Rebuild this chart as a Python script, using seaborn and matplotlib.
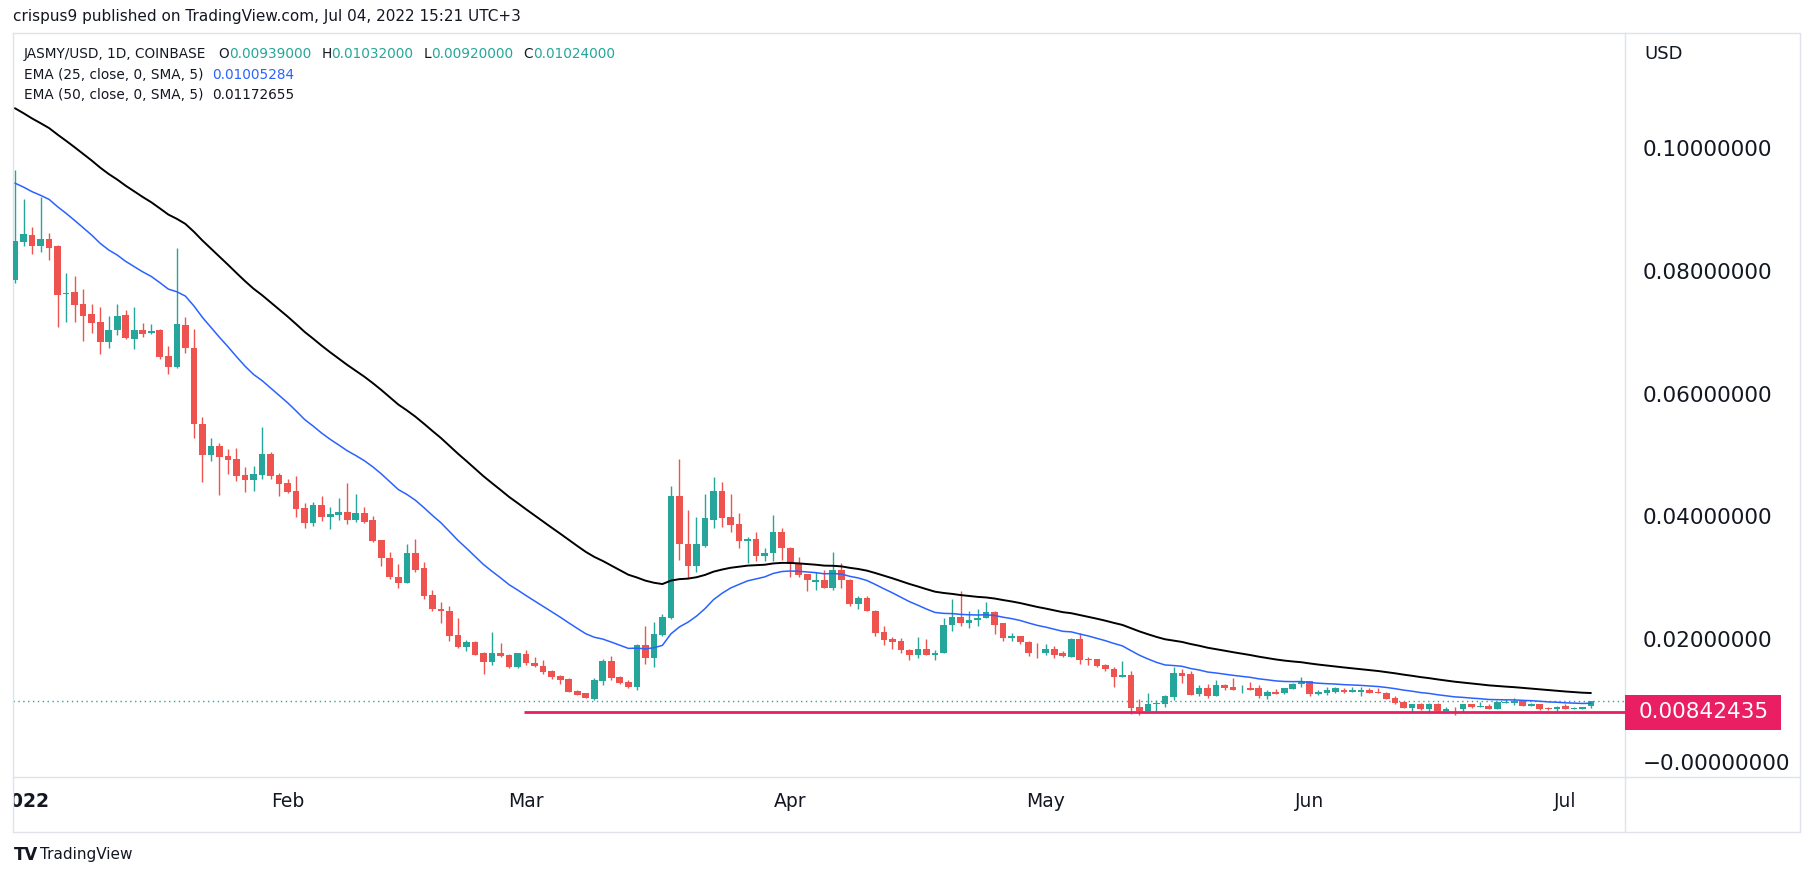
import numpy as np
import pandas as pd
import matplotlib
matplotlib.use("Agg")
import matplotlib.pyplot as plt
import matplotlib.dates as mdates
import matplotlib.transforms as mtransforms
from matplotlib.patches import Rectangle
from matplotlib.lines import Line2D
import seaborn as sns

# ---------------- data ----------------
start_date = "2021-12-31"

opens = [
    0.0788, 0.0850, 0.0861, 0.0843, 0.0855, 0.0843, 0.0765, 0.0769, 0.0749, 0.0733,
    0.0720, 0.0687, 0.0707, 0.0731, 0.0692, 0.0707, 0.0702, 0.0707, 0.0664, 0.0647,
    0.0715, 0.0678, 0.0554, 0.0503, 0.0518, 0.0501, 0.0496, 0.0470, 0.0463, 0.0471,
    0.0505, 0.0470, 0.0457, 0.0445, 0.0417, 0.0393, 0.0422, 0.0402, 0.0406, 0.0410,
    0.0397, 0.0409, 0.0397, 0.0365, 0.0336, 0.0305, 0.0295, 0.0344, 0.0319, 0.0275,
    0.0253, 0.0250, 0.0210, 0.0190, 0.0199, 0.0180, 0.0166, 0.0181, 0.0178, 0.0158,
    0.0179, 0.0165, 0.0160, 0.0151, 0.0143, 0.0139, 0.0119, 0.0115, 0.0106, 0.0136,
    0.0168, 0.0141, 0.0133, 0.0126, 0.0194, 0.0173, 0.0210, 0.0238, 0.0437, 0.0359,
    0.0323, 0.0355, 0.0398, 0.0444, 0.0403, 0.0391, 0.0364, 0.0367, 0.0339, 0.0343,
    0.0378, 0.0352, 0.0325, 0.0309, 0.0297, 0.0300, 0.0287, 0.0316, 0.0300, 0.0261,
    0.0271, 0.0250, 0.0215, 0.0203, 0.0200, 0.0186, 0.0178, 0.0188, 0.0177, 0.0180,
    0.0226, 0.0240, 0.0229, 0.0234, 0.0237, 0.0248, 0.0229, 0.0206, 0.0209, 0.0199,
    0.0181, 0.0180, 0.0188, 0.0180, 0.0175, 0.0204, 0.0171, 0.0171, 0.0162, 0.0155,
    0.0142, 0.0145, 0.0093, 0.0087, 0.0097, 0.0098, 0.0109, 0.0148, 0.0146, 0.0114,
    0.0124, 0.0110, 0.0129, 0.0126, 0.0123, 0.0124, 0.0123, 0.0110, 0.0118, 0.0115,
    0.0122, 0.0130, 0.0135, 0.0114, 0.0116, 0.0118, 0.0121, 0.0118, 0.0118, 0.0121,
    0.0118, 0.0116, 0.0107, 0.0101, 0.0092, 0.0097, 0.0090, 0.0098, 0.0087, 0.0090,
    0.0089, 0.0098, 0.0093, 0.0095, 0.0090, 0.0100, 0.0100, 0.0103, 0.0095, 0.0097,
    0.0092, 0.0090, 0.0095, 0.0089, 0.0090, 0.00939,
]
highs = [
    0.0967, 0.0920, 0.0874, 0.0923, 0.0865, 0.0845, 0.0800, 0.0795, 0.0774, 0.0749,
    0.0744, 0.0730, 0.0749, 0.0739, 0.0744, 0.0718, 0.0716, 0.0708, 0.0680, 0.0840,
    0.0728, 0.0709, 0.0565, 0.0531, 0.0523, 0.0513, 0.0514, 0.0483, 0.0485, 0.0549,
    0.0508, 0.0474, 0.0465, 0.0469, 0.0425, 0.0427, 0.0436, 0.0419, 0.0433, 0.0458,
    0.0440, 0.0419, 0.0404, 0.0365, 0.0345, 0.0326, 0.0358, 0.0366, 0.0329, 0.0283,
    0.0264, 0.0258, 0.0238, 0.0202, 0.0200, 0.0183, 0.0215, 0.0197, 0.0179, 0.0181,
    0.0185, 0.0175, 0.0170, 0.0153, 0.0145, 0.0140, 0.0120, 0.0116, 0.0140, 0.0171,
    0.0176, 0.0143, 0.0137, 0.0196, 0.0224, 0.0232, 0.0245, 0.0452, 0.0497, 0.0413,
    0.0403, 0.0439, 0.0468, 0.0460, 0.0439, 0.0408, 0.0370, 0.0378, 0.0351, 0.0406,
    0.0385, 0.0354, 0.0337, 0.0309, 0.0313, 0.0316, 0.0346, 0.0328, 0.0302, 0.0274,
    0.0273, 0.0251, 0.0225, 0.0207, 0.0205, 0.0188, 0.0207, 0.0204, 0.0186, 0.0238,
    0.0268, 0.0282, 0.0250, 0.0253, 0.0264, 0.0250, 0.0230, 0.0214, 0.0209, 0.0201,
    0.0197, 0.0196, 0.0193, 0.0184, 0.0206, 0.0214, 0.0175, 0.0171, 0.0163, 0.0158,
    0.0168, 0.0152, 0.0106, 0.0116, 0.0105, 0.0113, 0.0158, 0.0154, 0.0151, 0.0128,
    0.0131, 0.0137, 0.0131, 0.0140, 0.0128, 0.0134, 0.0129, 0.0121, 0.0122, 0.0124,
    0.0132, 0.0142, 0.0136, 0.0121, 0.0126, 0.0126, 0.0124, 0.0126, 0.0126, 0.0124,
    0.0124, 0.0118, 0.0110, 0.0103, 0.0097, 0.0100, 0.0100, 0.0100, 0.0093, 0.0093,
    0.0098, 0.0098, 0.0101, 0.0097, 0.0101, 0.0106, 0.0107, 0.0104, 0.0100, 0.0097,
    0.0093, 0.0095, 0.0097, 0.0093, 0.0093, 0.01032,
]
lows = [
    0.0784, 0.0843, 0.0830, 0.0834, 0.0821, 0.0712, 0.0720, 0.0720, 0.0689, 0.0702,
    0.0668, 0.0677, 0.0698, 0.0692, 0.0676, 0.0696, 0.0700, 0.0660, 0.0635, 0.0645,
    0.0669, 0.0531, 0.0459, 0.0493, 0.0438, 0.0472, 0.0461, 0.0443, 0.0445, 0.0464,
    0.0464, 0.0436, 0.0442, 0.0402, 0.0384, 0.0388, 0.0396, 0.0383, 0.0397, 0.0391,
    0.0394, 0.0393, 0.0362, 0.0322, 0.0301, 0.0287, 0.0294, 0.0313, 0.0269, 0.0249,
    0.0230, 0.0200, 0.0189, 0.0184, 0.0177, 0.0147, 0.0161, 0.0175, 0.0157, 0.0157,
    0.0161, 0.0158, 0.0147, 0.0139, 0.0130, 0.0117, 0.0112, 0.0107, 0.0105, 0.0128,
    0.0137, 0.0131, 0.0124, 0.0121, 0.0163, 0.0158, 0.0209, 0.0236, 0.0333, 0.0303,
    0.0312, 0.0354, 0.0385, 0.0386, 0.0378, 0.0352, 0.0328, 0.0331, 0.0331, 0.0331,
    0.0333, 0.0305, 0.0305, 0.0282, 0.0284, 0.0286, 0.0284, 0.0287, 0.0258, 0.0253,
    0.0250, 0.0209, 0.0194, 0.0188, 0.0180, 0.0170, 0.0172, 0.0178, 0.0170, 0.0180,
    0.0217, 0.0224, 0.0222, 0.0225, 0.0237, 0.0212, 0.0201, 0.0201, 0.0196, 0.0176,
    0.0173, 0.0178, 0.0172, 0.0175, 0.0175, 0.0163, 0.0162, 0.0158, 0.0152, 0.0126,
    0.0141, 0.0082, 0.0079, 0.0087, 0.0087, 0.0093, 0.0104, 0.0132, 0.0113, 0.0111,
    0.0108, 0.0110, 0.0120, 0.0121, 0.0116, 0.0121, 0.0108, 0.0106, 0.0114, 0.0114,
    0.0122, 0.0126, 0.0111, 0.0112, 0.0113, 0.0115, 0.0116, 0.0118, 0.0110, 0.0116,
    0.0115, 0.0106, 0.0097, 0.0092, 0.0084, 0.0088, 0.0084, 0.0085, 0.0087, 0.0080,
    0.0085, 0.0092, 0.0093, 0.0090, 0.0090, 0.0099, 0.0096, 0.0095, 0.0095, 0.0088,
    0.0088, 0.0085, 0.0089, 0.0089, 0.0090, 0.00920,
]
closes = [
    0.0852, 0.0863, 0.0843, 0.0855, 0.0840, 0.0764, 0.0767, 0.0748, 0.0730, 0.0718,
    0.0687, 0.0707, 0.0730, 0.0694, 0.0707, 0.0700, 0.0705, 0.0663, 0.0647, 0.0717,
    0.0678, 0.0554, 0.0503, 0.0518, 0.0500, 0.0495, 0.0469, 0.0463, 0.0472, 0.0505,
    0.0469, 0.0456, 0.0443, 0.0415, 0.0393, 0.0422, 0.0402, 0.0407, 0.0410, 0.0397,
    0.0409, 0.0394, 0.0363, 0.0335, 0.0305, 0.0295, 0.0344, 0.0316, 0.0274, 0.0252,
    0.0249, 0.0208, 0.0190, 0.0199, 0.0178, 0.0166, 0.0181, 0.0176, 0.0158, 0.0180,
    0.0164, 0.0160, 0.0150, 0.0142, 0.0137, 0.0118, 0.0113, 0.0108, 0.0137, 0.0168,
    0.0140, 0.0132, 0.0126, 0.0194, 0.0173, 0.0211, 0.0240, 0.0437, 0.0359, 0.0323,
    0.0359, 0.0400, 0.0444, 0.0401, 0.0390, 0.0364, 0.0367, 0.0339, 0.0344, 0.0378,
    0.0351, 0.0325, 0.0308, 0.0299, 0.0299, 0.0287, 0.0316, 0.0299, 0.0261, 0.0271,
    0.0250, 0.0214, 0.0202, 0.0199, 0.0186, 0.0178, 0.0188, 0.0178, 0.0181, 0.0227,
    0.0240, 0.0229, 0.0235, 0.0238, 0.0248, 0.0227, 0.0206, 0.0209, 0.0198, 0.0180,
    0.0180, 0.0188, 0.0178, 0.0176, 0.0204, 0.0170, 0.0170, 0.0160, 0.0154, 0.0142,
    0.0145, 0.0092, 0.0087, 0.0098, 0.0100, 0.0110, 0.0149, 0.0144, 0.0113, 0.0124,
    0.0110, 0.0129, 0.0124, 0.0121, 0.0124, 0.0121, 0.0110, 0.0118, 0.0114, 0.0123,
    0.0131, 0.0136, 0.0114, 0.0118, 0.0121, 0.0123, 0.0118, 0.0121, 0.0121, 0.0116,
    0.0115, 0.0106, 0.0100, 0.0092, 0.0097, 0.0090, 0.0098, 0.0087, 0.0090, 0.0089,
    0.0098, 0.0093, 0.0095, 0.0090, 0.0101, 0.0101, 0.0103, 0.0095, 0.0097, 0.0090,
    0.0090, 0.0093, 0.0089, 0.0092, 0.0093, 0.01024,
]

ema25_seed = 0.0946          # EMA values at the first visible bar
ema50_seed = 0.1068
ema25_label = "0.01005284"
ema50_label = "0.01172655"

support_level = 0.00842435
support_start = "2022-02-28 18:00"

month_ticks = ["2022-01-01", "2022-02-01", "2022-03-01", "2022-04-01",
               "2022-05-01", "2022-06-01", "2022-07-01"]
month_labels = ["2022", "Feb", "Mar", "Apr", "May", "Jun", "Jul"]

price_ticks = [0.10, 0.08, 0.06, 0.04, 0.02, 0.0]
price_labels = ["0.10000000", "0.08000000", "0.06000000", "0.04000000",
                "0.02000000", "\u22120.00000000"]

header_text = "crispus9 published on TradingView.com, Jul 04, 2022 15:21 UTC+3"
symbol_text = "JASMY/USD, 1D, COINBASE"

# ---------------- styling ----------------
sns.set_theme(style="white")
plt.rcParams['font.family'] = ['DejaVu Sans']

UP, DOWN = "#26a69a", "#ef5350"
EMA25_C, EMA50_C = "#2962ff", "#000000"
PINK = "#e91e63"
TXT = "#131722"
FRAME = "#e0e3eb"

W, H = 1813, 876
fig = plt.figure(figsize=(W / 100, H / 100), dpi=100)
fig.patch.set_facecolor("white")


def fx(px):
    return px / W


def fy(py):
    return 1 - py / H


L, R, T, B, B2, RR = 13, 1625, 33, 777, 832, 1800
ax = fig.add_axes([fx(L), fy(B), fx(R - L), (B - T) / H])
axt = fig.add_axes([fx(L), fy(B2), fx(R - L), (B2 - B) / H], sharex=ax)

dates = pd.date_range(start_date, periods=len(closes), freq="D")
xnum = mdates.date2num(dates.to_pydatetime())
o = np.array(opens)
h = np.array(highs)
l = np.array(lows)
c = np.array(closes)


def ema(values, span, seed):
    s = pd.Series([seed] + list(values[1:]))
    return s.ewm(alpha=2.0 / (span + 1), adjust=False).mean().values


ema25 = ema(c, 25, ema25_seed)
ema50 = ema(c, 50, ema50_seed)

up = c >= o
cols = np.where(up, UP, DOWN)

# candles
ax.vlines(xnum, l, h, colors=cols, linewidth=1.0, zorder=2)
body_bottom = np.minimum(o, c)
body_h = np.maximum(np.abs(c - o), 0.00013)
ax.bar(xnum, body_h, bottom=body_bottom, width=0.78, color=cols,
       linewidth=0, zorder=3)

# EMAs
sns.lineplot(x=xnum, y=ema25, ax=ax, color=EMA25_C, linewidth=1.1, zorder=4)
sns.lineplot(x=xnum, y=ema50, ax=ax, color=EMA50_C, linewidth=1.4, zorder=4)

# limits
x_left = xnum[0] - 0.235
x_right = xnum[0] + 189.0
ax.set_xlim(x_left, x_right)
ax.set_ylim(-0.002117, 0.11906)

# last price dotted line and support line
ax.axhline(c[-1], color=UP, linewidth=1.0, linestyle=(0, (1, 2.5)), zorder=1)
sup_x0 = mdates.date2num(pd.Timestamp(support_start).to_pydatetime())
ax.hlines(support_level, sup_x0, x_right, colors=PINK, linewidth=2.0, zorder=5)

ax.set_xticks([])
ax.set_yticks([])
ax.set_xlabel("")
ax.set_ylabel("")
for sp in ax.spines.values():
    sp.set_color(FRAME)
    sp.set_linewidth(1.0)

axt.set_ylim(0, 1)
axt.set_axis_off()
for d, lab in zip(month_ticks, month_labels):
    xd = mdates.date2num(pd.Timestamp(d).to_pydatetime())
    axt.text(xd, 0.56, lab, ha="center", va="center", fontsize=13.5,
             color=TXT, fontweight="bold" if lab.isdigit() else "normal",
             clip_on=True)

# frame lines
def fline(x0, y0, x1, y1):
    fig.add_artist(Line2D([fx(x0), fx(x1)], [fy(y0), fy(y1)],
                          transform=fig.transFigure, color=FRAME, linewidth=1.0))


fline(R, T, RR, T)
fline(RR, T, RR, B2)
fline(L, B2, RR, B2)
fline(L, B, L, B2)
fline(R, B, RR, B)
fline(R, B, R, B2)

# price scale labels
trans = mtransforms.blended_transform_factory(fig.transFigure, ax.transData)
for v, lab in zip(price_ticks, price_labels):
    ax.text(fx(1643), v, lab, transform=trans, ha="left", va="center",
            fontsize=15.5, color=TXT, clip_on=False)
fig.text(fx(1644), fy(54), "USD", ha="left", va="center", fontsize=13, color=TXT)

hh = 17.5 / 6140
ax.add_patch(Rectangle((fx(1625), support_level - hh), fx(1781 - 1625), 2 * hh,
                       transform=trans, facecolor=PINK, edgecolor="none",
                       clip_on=False, zorder=6))
ax.text(fx(1704), support_level, f"{support_level:.8f}", transform=trans,
        ha="center", va="center", fontsize=15.5, color="white", clip_on=False,
        zorder=7)

# header texts
fig.canvas.draw()
renderer = fig.canvas.get_renderer()


def seq_text(x_px, y_px, parts, size):
    x = x_px
    for s, col, gap in parts:
        x += gap
        t = fig.text(fx(x), fy(y_px), s, color=col, fontsize=size,
                     ha="left", va="center")
        bb = t.get_window_extent(renderer=renderer)
        x += bb.width


fig.text(fx(13), fy(16), header_text, ha="left", va="center", fontsize=11,
         color=TXT)
val_col = UP if c[-1] >= o[-1] else DOWN
seq_text(24, 54, [
    (symbol_text, TXT, 0),
    ("O", TXT, 12), (f"{o[-1]:.8f}", val_col, 0),
    ("H", TXT, 10), (f"{h[-1]:.8f}", val_col, 0),
    ("L", TXT, 10), (f"{l[-1]:.8f}", val_col, 0),
    ("C", TXT, 10), (f"{c[-1]:.8f}", val_col, 0),
], 9.8)
seq_text(24, 75, [("EMA (25, close, 0, SMA, 5)", TXT, 0),
                  (ema25_label, EMA25_C, 9)], 9.8)
seq_text(24, 95, [("EMA (50, close, 0, SMA, 5)", TXT, 0),
                  (ema50_label, TXT, 9)], 9.8)

# TradingView logo
fig.text(fx(14), fy(855), "TV", ha="left", va="center", fontsize=12,
         fontweight="heavy", color=TXT)
fig.text(fx(40), fy(855), "TradingView", ha="left", va="center", fontsize=11,
         color=TXT)

fig.savefig("out.png", dpi=100, facecolor="white")
